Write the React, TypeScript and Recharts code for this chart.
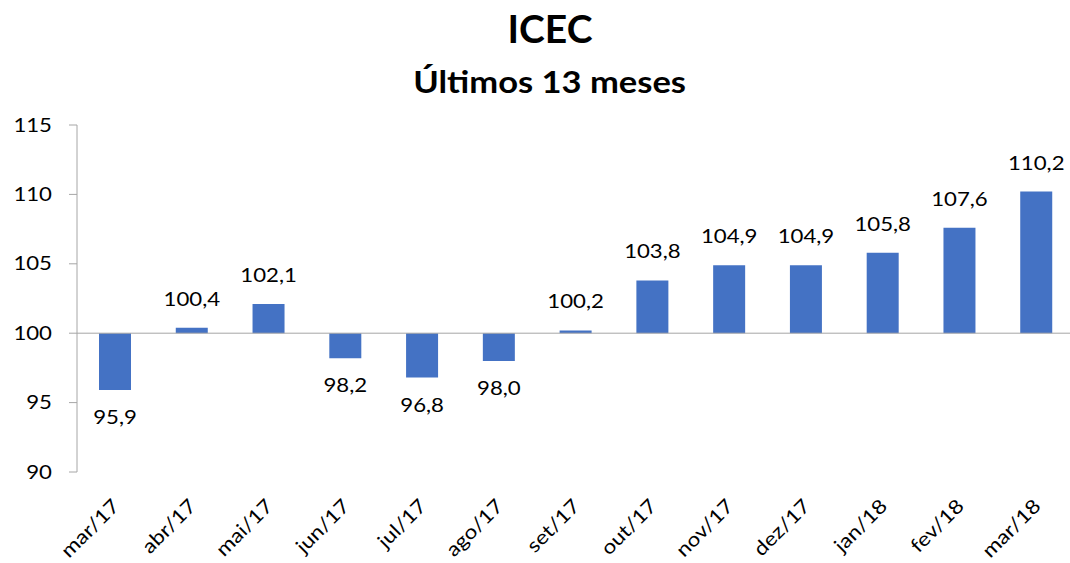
import React from 'react';
import { BarChart, Bar, XAxis, YAxis, ReferenceLine, LabelList } from 'recharts';

const months = ['mar/17', 'abr/17', 'mai/17', 'jun/17', 'jul/17', 'ago/17', 'set/17', 'out/17', 'nov/17', 'dez/17', 'jan/18', 'fev/18', 'mar/18'];
const icecValues = [95.9, 100.4, 102.1, 98.2, 96.8, 98.0, 100.2, 103.8, 104.9, 104.9, 105.8, 107.6, 110.2];
const yTicks = [90, 95, 100, 105, 110, 115];
const baseLine = 100;

const chartData = months.map((name, i) => ({
  name,
  value: icecValues[i],
  range: [baseLine, icecValues[i]],
}));

const FONT = 'Lato, "Open Sans", sans-serif';
const FS = 18.5;
const SX = 1.2; // reference text is a bit wider than the font

const fmt = (v: number) => v.toFixed(1).replace('.', ',');

const MonthTick = (props: any) => {
  const { x, y, payload } = props;
  return (
    <g transform={`translate(${x + 1},${y + 23}) rotate(-45) scale(1.15,1)`}>
      <text textAnchor="end" fontSize={19.5} fontFamily={FONT} fill="#000" dy={6}>
        {payload.value}
      </text>
    </g>
  );
};

const ValueTick = (props: any) => {
  const { y, payload } = props;
  return (
    <g transform={`translate(52,${y}) scale(${SX},1)`}>
      <text textAnchor="end" fontSize={FS} fontFamily={FONT} fill="#000" dy="0.36em">
        {payload.value}
      </text>
    </g>
  );
};

const ValueLabel = (props: any) => {
  const { x, y, width, height, index } = props;
  const v = icecValues[index];
  const top = Math.min(y, y + height);
  const bottom = Math.max(y, y + height);
  const ly = v >= baseLine ? top - 22 : bottom + 34;
  return (
    <g transform={`translate(${x + width / 2},${ly}) scale(${SX},1)`}>
      <text textAnchor="middle" fontSize={FS} fontFamily={FONT} fill="#000">
        {fmt(v)}
      </text>
    </g>
  );
};

export default function App() {
  return (
    <div style={{ position: 'absolute', left: 0, top: 0, width: 1070, height: 563, overflow: 'hidden', background: '#fff' }}>
      <div style={{ position: 'absolute', left: 0, top: 6, width: 1100, textAlign: 'center', fontFamily: FONT, fontWeight: 'bold', fontSize: 39, lineHeight: '44px', color: '#000' }}>
        ICEC
      </div>
      <div style={{ position: 'absolute', left: 0, top: 63, width: 1100, textAlign: 'center', color: '#000' }}>
        <span style={{ display: 'inline-block', transform: 'scaleX(1.15)', fontFamily: FONT, fontWeight: 'bold', fontSize: 30, lineHeight: '36px' }}>
          Últimos 13 meses
        </span>
      </div>
      <BarChart
        width={1075}
        height={563}
        data={chartData}
        margin={{ top: 125, right: 0, bottom: 0, left: 0 }}
        barCategoryGap={0}
      >
        <XAxis
          dataKey="name"
          axisLine={false}
          tickLine={false}
          height={91}
          interval={0}
          tick={<MonthTick />}
        />
        <YAxis
          domain={[90, 115]}
          ticks={yTicks}
          width={77}
          interval={0}
          axisLine={{ stroke: '#a6a6a6' }}
          tickLine={{ stroke: '#a6a6a6' }}
          tickSize={8}
          tick={<ValueTick />}
        />
        <ReferenceLine y={baseLine} stroke="#a6a6a6" strokeWidth={1} />
        <Bar dataKey="range" fill="#4472C4" barSize={32} isAnimationActive={false}>
          <LabelList dataKey="value" content={<ValueLabel />} />
        </Bar>
      </BarChart>
    </div>
  );
}
